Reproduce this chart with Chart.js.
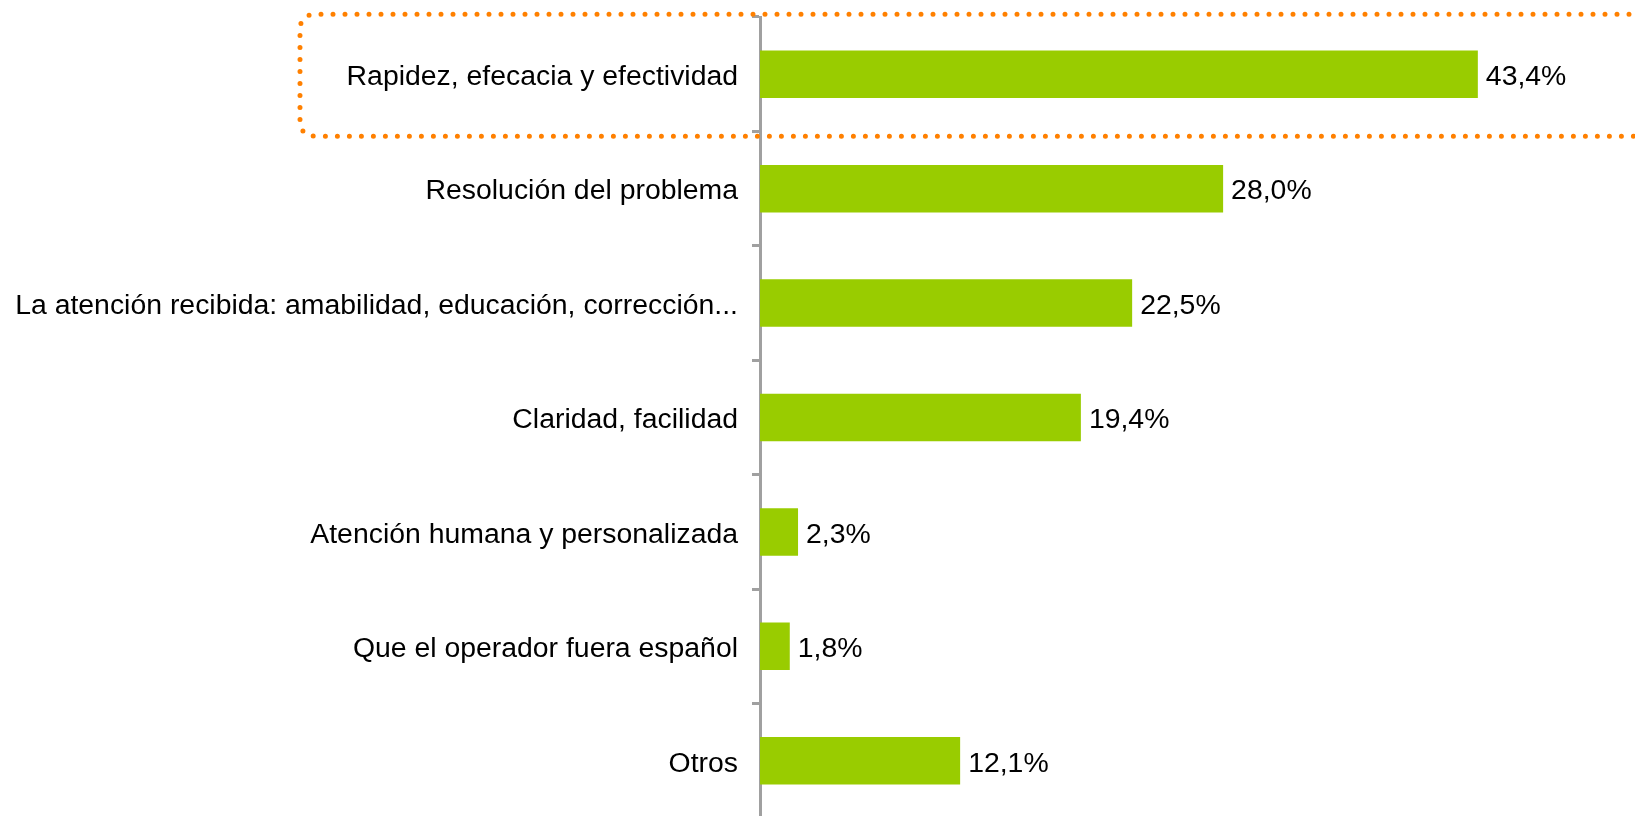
<!DOCTYPE html>
<html>
<head>
<meta charset="utf-8">
<script src="https://cdn.jsdelivr.net/npm/chart.js@4/dist/chart.umd.min.js"></script>
<style>
    html, body { margin: 0; padding: 0; background: #fff; overflow: hidden; }
    #wrap { width: 1635px; height: 818px; position: relative; }
</style>
</head>
<body>
<div id="wrap"><canvas id="chart"></canvas></div>
<script>
    // données du graphique
    const categories = [
        'Rapidez, efecacia y efectividad',
        'Resolución del problema',
        'La atención recibida: amabilidad, educación, corrección...',
        'Claridad, facilidad',
        'Atención humana y personalizada',
        'Que el operador fuera español',
        'Otros'
    ];
    const values = [43.4, 28.0, 22.5, 19.4, 2.3, 1.8, 12.1];
    const valueLabels = ['43,4%', '28,0%', '22,5%', '19,4%', '2,3%', '1,8%', '12,1%'];
    const highlighted = [0];

    const FONT = '"Liberation Sans", Arial, sans-serif';
    const FONT_SIZE = 28.4;

    // étiquettes de valeur au bout des barres
    const valueLabelPlugin = {
        id: 'valueLabels',
        afterDatasetsDraw(chart) {
            const ctx = chart.ctx;
            const meta = chart.getDatasetMeta(0);
            ctx.save();
            ctx.font = FONT_SIZE + 'px ' + FONT;
            ctx.fillStyle = '#000';
            ctx.textAlign = 'left';
            ctx.textBaseline = 'middle';
            meta.data.forEach((bar, i) => {
                ctx.fillText(valueLabels[i], bar.x + 8, bar.y + 3);
            });
            ctx.restore();
        }
    };

    // cadre pointillé autour de la catégorie mise en avant
    const highlightPlugin = {
        id: 'highlightBox',
        afterDraw(chart) {
            const ctx = chart.ctx;
            const y = chart.scales.y;
            ctx.save();
            ctx.strokeStyle = '#FF8000';
            ctx.lineWidth = 5;
            ctx.lineCap = 'round';
            ctx.setLineDash([0, 12]);
            highlighted.forEach(idx => {
                const cy = y.getPixelForValue(idx);
                const top = cy - 60, bottom = cy + 62;
                const left = 300, right = chart.width + 30, r = 16;
                ctx.beginPath();
                ctx.moveTo(right, top);
                ctx.lineTo(left + r, top);
                ctx.quadraticCurveTo(left, top, left, top + r);
                ctx.lineTo(left, bottom - r);
                ctx.quadraticCurveTo(left, bottom, left + r, bottom);
                ctx.lineTo(right, bottom);
                ctx.stroke();
            });
            ctx.restore();
        }
    };

    new Chart(document.getElementById('chart'), {
        type: 'bar',
        data: {
            labels: categories,
            datasets: [{
                data: values,
                backgroundColor: '#99CC00',
                borderWidth: 0,
                categoryPercentage: 1,
                barPercentage: 0.415
            }]
        },
        options: {
            indexAxis: 'y',
            responsive: true,
            maintainAspectRatio: false,
            animation: false,
            layout: { padding: { top: 17, bottom: 0, left: 0, right: 48 } },
            plugins: {
                legend: { display: false },
                tooltip: { enabled: false }
            },
            scales: {
                x: {
                    display: false,
                    min: 0,
                    max: 50
                },
                y: {
                    afterFit(scale) {
                        scale.width = 760;
                        scale.paddingTop = 0;
                        scale.paddingBottom = 0;
                    },
                    border: { display: true, color: '#A0A0A0', width: 3 },
                    grid: {
                        drawOnChartArea: false,
                        drawTicks: true,
                        tickLength: 8,
                        tickWidth: 3,
                        tickColor: '#A0A0A0',
                        offset: true
                    },
                    ticks: {
                        color: '#000',
                        padding: 14,
                        labelOffset: 3,
                        font: { family: FONT, size: FONT_SIZE }
                    }
                }
            }
        },
        plugins: [valueLabelPlugin, highlightPlugin]
    });
</script>
</body>
</html>
